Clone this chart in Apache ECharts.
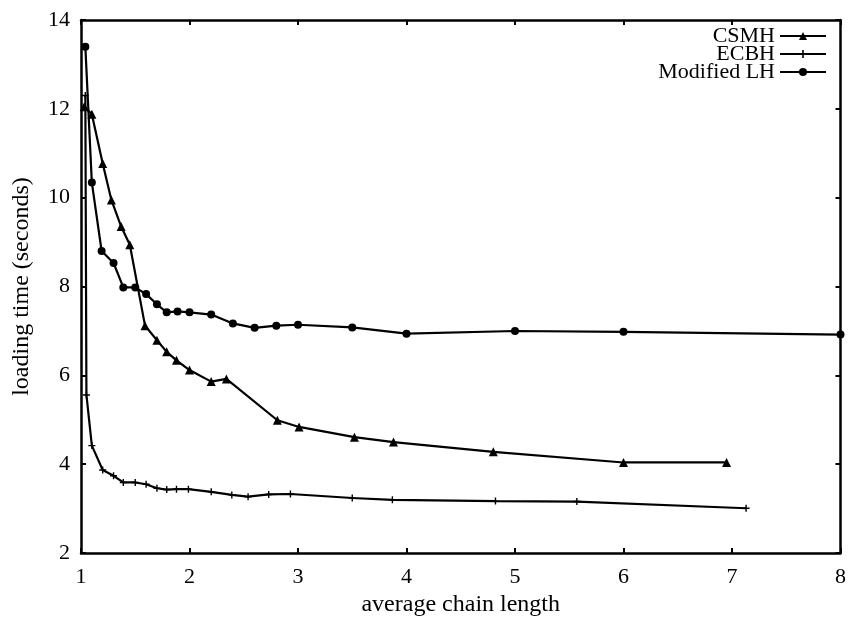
<!DOCTYPE html>
<html>
<head>
<meta charset="utf-8">
<script src="https://cdn.jsdelivr.net/npm/echarts@6/dist/echarts.min.js"></script>
<style>
html,body{margin:0;padding:0;background:#fff;}
#chart{width:849px;height:622px;}
</style>
</head>
<body>
<div id="chart"></div>
<script>
// ---- data ----
var xTicks = [1, 2, 3, 4, 5, 6, 7, 8];
var yTicks = [2, 4, 6, 8, 10, 12, 14];

var csmhX = [1.03, 1.10, 1.20, 1.28, 1.37, 1.45, 1.59, 1.70, 1.79, 1.88, 2.00, 2.20, 2.34, 2.81, 3.01, 3.52, 3.88, 4.80, 6.00, 6.95];
var csmhY = [12.05, 11.88, 10.77, 9.95, 9.35, 8.94, 7.12, 6.79, 6.53, 6.34, 6.12, 5.86, 5.92, 4.99, 4.84, 4.61, 4.50, 4.28, 4.04, 4.04];

var ecbhX = [1.04, 1.05, 1.10, 1.20, 1.30, 1.39, 1.50, 1.60, 1.70, 1.79, 1.88, 1.99, 2.20, 2.39, 2.54, 2.73, 2.93, 3.50, 3.87, 4.82, 5.57, 7.13];
var ecbhY = [12.30, 5.56, 4.42, 3.87, 3.74, 3.59, 3.59, 3.55, 3.46, 3.43, 3.44, 3.44, 3.38, 3.31, 3.27, 3.32, 3.33, 3.24, 3.20, 3.17, 3.16, 3.01];

var lhX = [1.04, 1.10, 1.19, 1.30, 1.39, 1.50, 1.60, 1.70, 1.79, 1.89, 2.00, 2.20, 2.40, 2.60, 2.80, 3.00, 3.50, 4.00, 5.00, 6.00, 8.00];
var lhY = [13.40, 10.34, 8.80, 8.53, 7.98, 7.98, 7.83, 7.60, 7.42, 7.44, 7.42, 7.37, 7.17, 7.07, 7.12, 7.14, 7.08, 6.94, 7.00, 6.98, 6.92];

var seriesNames = ['CSMH', 'ECBH', 'Modified LH'];
var xName = 'average chain length';
var yName = 'loading time (seconds)';

function zip(xs, ys) { return xs.map(function (x, i) { return [x, ys[i]]; }); }

var FONT = '"Liberation Serif", "Times New Roman", serif';
var INK = '#000';
var plusPath = 'path://M4,0H6V4H10V6H6V10H4V6H0V4H4Z';

var chart = echarts.init(document.getElementById('chart'), null, {renderer: 'canvas'});

var axisLine = {show: true, onZero: false, lineStyle: {color: INK, width: 2.5}};
var tickIn = {show: true, inside: true, length: 5, lineStyle: {color: INK, width: 2}};

var option = {
  backgroundColor: '#fff',
  animation: false,
  grid: {left: 81, right: 6, top: 20, bottom: 64, containLabel: false},
  legend: {
    orient: 'vertical',
    right: 17,
    top: 20,
    align: 'right',
    itemWidth: 46,
    itemHeight: 10,
    itemGap: -4,
    data: seriesNames,
    textStyle: {fontFamily: FONT, fontSize: 22, color: INK}
  },
  xAxis: [{
    type: 'value', min: xTicks[0], max: xTicks[xTicks.length - 1], interval: 1,
    position: 'bottom',
    name: xName, nameLocation: 'middle', nameGap: 32,
    nameTextStyle: {fontFamily: FONT, fontSize: 24, color: INK},
    axisLine: axisLine, axisTick: tickIn,
    axisLabel: {fontFamily: FONT, fontSize: 22, color: INK, margin: 13},
    splitLine: {show: false}
  }, {
    type: 'value', min: xTicks[0], max: xTicks[xTicks.length - 1], interval: 1,
    position: 'top',
    axisLine: axisLine, axisTick: tickIn,
    axisLabel: {show: false}, splitLine: {show: false}
  }],
  yAxis: [{
    type: 'value', min: yTicks[0], max: yTicks[yTicks.length - 1], interval: 2,
    position: 'left',
    name: yName, nameLocation: 'middle', nameGap: 47,
    nameTextStyle: {fontFamily: FONT, fontSize: 24, color: INK},
    axisLine: axisLine, axisTick: tickIn,
    axisLabel: {fontFamily: FONT, fontSize: 22, color: INK, margin: 11},
    splitLine: {show: false}
  }, {
    type: 'value', min: yTicks[0], max: yTicks[yTicks.length - 1], interval: 2,
    position: 'right',
    axisLine: axisLine, axisTick: tickIn,
    axisLabel: {show: false}, splitLine: {show: false}
  }],
  series: [{
    name: seriesNames[0], type: 'line', data: zip(csmhX, csmhY),
    symbol: 'triangle', symbolSize: 9, showAllSymbol: true,
    lineStyle: {color: INK, width: 2.2}, itemStyle: {color: INK}
  }, {
    name: seriesNames[1], type: 'line', data: zip(ecbhX, ecbhY),
    symbol: plusPath, symbolSize: 7, showAllSymbol: true,
    lineStyle: {color: INK, width: 2.2}, itemStyle: {color: INK}
  }, {
    name: seriesNames[2], type: 'line', data: zip(lhX, lhY),
    symbol: 'circle', symbolSize: 8, showAllSymbol: true,
    lineStyle: {color: INK, width: 2.2}, itemStyle: {color: INK}
  }]
};
chart.setOption(option);
</script>
</body>
</html>
